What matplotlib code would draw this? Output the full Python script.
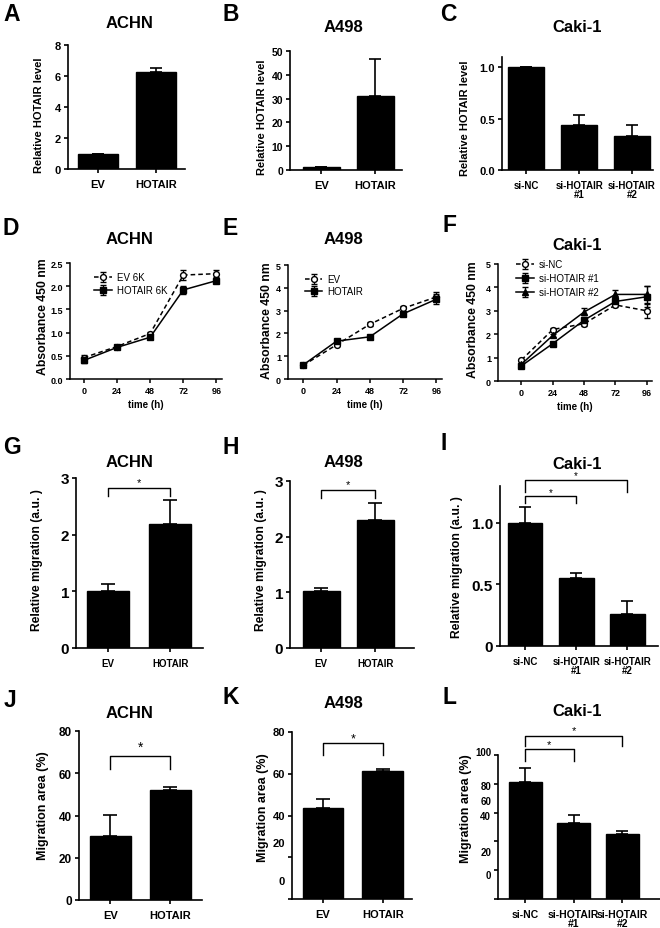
import numpy as np
import matplotlib
matplotlib.use('Agg')
import matplotlib.pyplot as plt
from matplotlib.transforms import ScaledTranslation

plt.rcParams['font.family'] = ['Liberation Sans', 'DejaVu Sans']

W, H = 660, 929

# ---- data ----
two_groups = ['EV', 'HOTAIR']
si_groups = ['si-NC', 'si-HOTAIR\n#1', 'si-HOTAIR\n#2']
hours = [0, 24, 48, 72, 96]

# row 1: relative HOTAIR level
a_vals = [1.0, 6.24]
a_err = [0.0, 0.27]
b_vals = [1.1, 31.0]
b_err = [0.0, 15.5]
c_vals = [1.0, 0.44, 0.335]
c_err = [0.0, 0.095, 0.105]

# row 2: absorbance 450 nm
d_ev = [0.46, 0.70, 0.98, 2.24, 2.27]
d_ev_err = [0.05, 0.03, 0.03, 0.10, 0.08]
d_hot = [0.40, 0.68, 0.90, 1.92, 2.12]
d_hot_err = [0.05, 0.03, 0.03, 0.08, 0.06]
e_ev = [0.60, 1.50, 2.40, 3.10, 3.60]
e_ev_err = [0.05, 0.06, 0.08, 0.12, 0.20]
e_hot = [0.62, 1.66, 1.85, 2.86, 3.50]
e_hot_err = [0.05, 0.06, 0.05, 0.08, 0.22]
f_nc = [0.90, 2.20, 2.45, 3.25, 3.00]
f_nc_err = [0.06, 0.06, 0.10, 0.10, 0.30]
f_si1 = [0.65, 1.60, 2.60, 3.40, 3.60]
f_si1_err = [0.05, 0.06, 0.10, 0.15, 0.45]
f_si2 = [0.72, 1.95, 2.95, 3.70, 3.70]
f_si2_err = [0.05, 0.06, 0.15, 0.20, 0.35]

# row 3: relative migration
g_vals = [1.0, 2.19]
g_err = [0.13, 0.43]
h_vals = [1.02, 2.30]
h_err = [0.06, 0.31]
i_vals = [1.0, 0.55, 0.262]
i_err = [0.13, 0.045, 0.106]

# row 4: migration area
j_vals = [30.1, 52.3]
j_err = [10.1, 1.2]
k_vals = [43.7, 61.4]
k_err = [4.4, 0.9]
l_vals = [81.0, 53.0, 44.9]
l_err = [10.0, 5.3, 2.1]

fig = plt.figure(figsize=(W / 100, H / 100), dpi=100)


def rect(l, t, r, b):
    return [l / W, 1 - b / H, (r - l) / W, (b - t) / H]


def ftext(x, y, s, **kw):
    fig.text(x / W, 1 - y / H, s, **kw)


def style(ax, lw=1.2):
    for s in ['top', 'right']:
        ax.spines[s].set_visible(False)
    for s in ['left', 'bottom']:
        ax.spines[s].set_linewidth(lw)
    ax.tick_params(width=lw, length=3, direction='out', pad=2)


def bar_panel(r, labels, vals, errs, xlim, ylim, yticks, ytl, yfs, xfs, capsize=4):
    ax = fig.add_axes(rect(*r))
    x = np.arange(len(labels))
    ax.bar(x, vals, width=0.68, color='black', edgecolor='black')
    ax.errorbar(x, vals, yerr=[np.zeros(len(vals)), errs], fmt='none',
                ecolor='black', elinewidth=1.2, capsize=capsize, capthick=1.2,
                clip_on=False)
    ax.set_xlim(*xlim)
    ax.set_ylim(*ylim)
    ax.set_yticks(yticks)
    ax.set_yticklabels(ytl, fontsize=yfs, fontweight='bold')
    ax.set_xticks(x)
    ax.set_xticklabels(labels, fontsize=xfs, fontweight='bold', linespacing=0.95)
    style(ax)
    ax.tick_params(axis='x', pad=4)
    return ax


def line_panel(r, xlim, ylim, yticks, ytl, series, leg_xy, leg_fs=7, lsp=0.4):
    ax = fig.add_axes(rect(*r))
    for vals, errs, mk, mfc, ls, lab in series:
        ax.errorbar(hours, vals, yerr=errs, marker=mk, markersize=4.2, mfc=mfc,
                    mec='black', mew=1, color='black', ls=ls, lw=1.1,
                    capsize=2.5, elinewidth=0.9, capthick=0.9, label=lab,
                    clip_on=False)
    ax.set_xlim(*xlim)
    ax.set_ylim(*ylim)
    ax.set_xticks(hours)
    ax.set_xticklabels([str(h) for h in hours], fontsize=6.5, fontweight='bold')
    ax.set_yticks(yticks)
    ax.set_yticklabels(ytl, fontsize=6.5, fontweight='bold')
    ax.set_xlabel('time (h)', fontsize=7, fontweight='bold', labelpad=3)
    style(ax, 1.1)
    ax.legend(loc='upper left', bbox_to_anchor=leg_xy, frameon=False,
              fontsize=leg_fs, handlelength=1.8, handletextpad=0.5,
              borderaxespad=0, borderpad=0, labelspacing=lsp)
    return ax


def bracket(ax, x0, x1, y, y0, star_y, fs):
    ax.plot([x0, x0, x1, x1], [y0, y, y, y0], color='black', lw=1, clip_on=False)
    ax.text((x0 + x1) / 2, star_y, '*', ha='center', va='center', fontsize=fs,
            clip_on=False)


def loose_yticklabels(ax, vals, labels, offsets, fs):
    # the reference has some tick labels sitting off their ticks
    ax.set_yticklabels([])
    for v, s, dy in zip(vals, labels, offsets):
        tr = ax.get_yaxis_transform() + ScaledTranslation(-5 / 72, dy / 100,
                                                          fig.dpi_scale_trans)
        ax.text(0, v, s, transform=tr, ha='right', va='center', fontsize=fs,
                fontweight='bold', clip_on=False)


# ---- row 1 ----
bar_panel((68, 46, 185, 170), two_groups, a_vals, a_err, (-0.52, 1.5), (0, 8),
          [0, 2, 4, 6, 8], ['0', '2', '4', '6', '8'], 8, 8)
bar_panel((290, 52, 402, 171), two_groups, b_vals, b_err, (-0.58, 1.49), (0, 50),
          [0, 10, 20, 30, 40, 50], ['0', '10', '20', '30', '40', '50'], 7.5, 8)
bar_panel((502, 58, 653, 171), si_groups, c_vals, c_err, (-0.46, 2.4), (0, 1.1),
          [0, 0.5, 1.0], ['0.0', '0.5', '1.0'], 8, 7)

# ---- row 2 ----
ev_style = ('o', 'white', (0, (3, 2)))
hot_style = ('s', 'black', '-')
tri_style = ('^', 'black', '-')
line_panel((70, 264, 222, 380), (-10, 100), (0, 2.5), [0, 0.5, 1.0, 1.5, 2.0, 2.5],
           ['0.0', '0.5', '1.0', '1.5', '2.0', '2.5'],
           [(d_ev, d_ev_err) + ev_style + ('EV 6K',),
            (d_hot, d_hot_err) + hot_style + ('HOTAIR 6K',)], (0.16, 0.92),
           lsp=0.3)
line_panel((288, 266, 442, 380), (-11, 100), (0, 5), [0, 1, 2, 3, 4, 5],
           ['0', '1', '2', '3', '4', '5'],
           [(e_ev, e_ev_err) + ev_style + ('EV',),
            (e_hot, e_hot_err) + hot_style + ('HOTAIR',)], (0.11, 0.92),
           lsp=0.2)
line_panel((498, 265, 652, 382), (-18, 100), (0, 5), [0, 1, 2, 3, 4, 5],
           ['0', '1', '2', '3', '4', '5'],
           [(f_nc, f_nc_err) + ev_style + ('si-NC',),
            (f_si1, f_si1_err) + hot_style + ('si-HOTAIR #1',),
            (f_si2, f_si2_err) + tri_style + ('si-HOTAIR #2',)], (0.12, 1.04))

# ---- row 3 ----
ax_g = bar_panel((76, 479, 203, 649), two_groups, g_vals, g_err, (-0.52, 1.53),
                 (0, 3), [0, 1, 2, 3], ['0', '1', '2', '3'], 11, 7, 5)
bracket(ax_g, 0, 1, 2.82, 2.69, 2.93, 8)
ax_h = bar_panel((290, 482, 414, 649), two_groups, h_vals, h_err, (-0.58, 1.72),
                 (0, 3), [0, 1, 2, 3], ['0', '1', '2', '3'], 11, 7, 5)
bracket(ax_h, 0, 1, 2.83, 2.69, 2.94, 8)
ax_i = bar_panel((500, 487, 658, 647), si_groups, i_vals, i_err, (-0.49, 2.6),
                 (0, 1.3), [0, 0.5, 1.0], ['0', '0.5', '1.0'], 11, 7, 4.5)
bracket(ax_i, 0, 2, 1.35, 1.25, 1.385, 7)
bracket(ax_i, 0, 1, 1.216, 1.16, 1.25, 7)

# ---- row 4 ----
ax_j = bar_panel((79, 732, 202, 901), two_groups, j_vals, j_err, (-0.52, 1.53),
                 (0, 80), [0, 20, 40, 60, 80], ['0', '20', '40', '60', '80'], 8.5, 8, 5)
bracket(ax_j, 0, 1, 68.1, 62.1, 72.5, 10)
k_ticks = [0, 20, 40, 60, 80]
ax_k = bar_panel((292, 733, 412, 900), two_groups, k_vals, k_err, (-0.52, 1.49),
                 (0, 80), k_ticks, [str(t) for t in k_ticks], 8, 8, 5)
loose_yticklabels(ax_k, k_ticks, [str(t) for t in k_ticks], [18, 14, 0, 0, 0], 8)
bracket(ax_k, 0, 1, 74.6, 69.0, 77.0, 9)
l_ticks = [0, 20, 40, 60, 80, 100]
ax_l = bar_panel((498, 756, 660, 900), si_groups, l_vals, l_err, (-0.56, 2.78),
                 (0, 100), l_ticks, [str(t) for t in l_ticks], 7, 7.5, 4.5)
loose_yticklabels(ax_l, l_ticks, [str(t) for t in l_ticks],
                  [24, 18, 25, 12, -2, 3], 7)
bracket(ax_l, 0, 2, 113.4, 106, 117.5, 8)
bracket(ax_l, 0, 1, 104.2, 96, 107.5, 8)

# ---- panel letters ----
letters = ['A', 'B', 'C', 'D', 'E', 'F', 'G', 'H', 'I', 'J', 'K', 'L']
letter_xy = [(3, 3), (222, 3), (440, 3), (3, 217), (222, 217), (442, 214),
             (3, 436), (222, 436), (440, 432), (4, 689), (222, 686), (442, 686)]
for s, (x, y) in zip(letters, letter_xy):
    ftext(x, y, s, fontsize=16.5, fontweight='bold', ha='left', va='top')

# ---- titles ----
titles = ['ACHN', 'A498', 'Caki-1'] * 4
title_xy = [(130, 24), (343, 27), (577, 27), (130, 240), (343, 240), (577, 245),
            (130, 463), (343, 463), (577, 465), (130, 713), (343, 704), (577, 712)]
for s, (x, y) in zip(titles, title_xy):
    ftext(x, y, s, fontsize=12, fontweight='bold', ha='center', va='center')

# ---- y labels ----
ylabels = ['Relative HOTAIR level'] * 3 + ['Absorbance 450 nm'] * 3 + \
          ['Relative migration (a.u. )'] * 3 + ['Migration area (%)'] * 3
ylabel_xy = [(39, 115), (262, 117), (465, 118), (43, 317), (267, 321), (473, 320),
             (37, 560), (261, 560), (457, 567), (43, 806), (263, 808), (466, 809)]
ylabel_fs = [8, 8, 8, 8.8, 8.8, 8.8, 8.7, 8.7, 8.7, 9, 9, 9]
for s, (x, y), fs in zip(ylabels, ylabel_xy, ylabel_fs):
    ftext(x, y, s, fontsize=fs, fontweight='bold', rotation=90,
          ha='center', va='center')

fig.savefig('out.png', dpi=100)
